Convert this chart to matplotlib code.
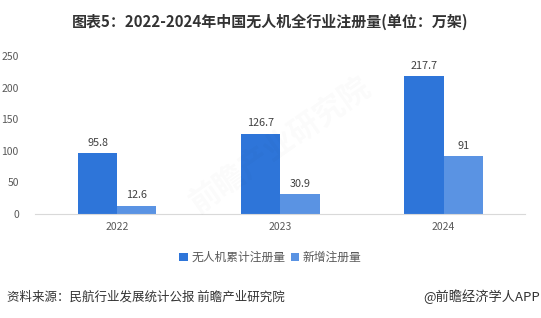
import numpy as np
import matplotlib.pyplot as plt

plt.rcParams['font.family'] = ['Noto Sans CJK SC', 'DejaVu Sans']

years = ['2022', '2023', '2024']
total = [95.8, 126.7, 217.7]
new_reg = [12.6, 30.9, 91]
total_labels = ['95.8', '126.7', '217.7']
new_labels = ['12.6', '30.9', '91']
yticks = [0, 50, 100, 150, 200, 250]

c_total = '#2E75D9'
c_new = '#5A93E3'
grey = '#595959'

fig = plt.figure(figsize=(5.41, 3.18), dpi=100)
ax = fig.add_axes([0.0656, 0.327, 0.9054, 0.497])

x = np.arange(len(years))
w = 0.24
b1 = ax.bar(x - w / 2, total, w, color=c_total, label='无人机累计注册量')
b2 = ax.bar(x + w / 2, new_reg, w, color=c_new, label='新增注册量')

for rect, lab in zip(b1, total_labels):
    ax.text(rect.get_x() + rect.get_width() / 2, rect.get_height() + 9, lab,
            ha='center', va='bottom', fontsize=7.8, color='#404040')
for rect, lab in zip(b2, new_labels):
    ax.text(rect.get_x() + rect.get_width() / 2, rect.get_height() + 9, lab,
            ha='center', va='bottom', fontsize=7.8, color='#404040')

ax.set_xlim(-0.5, 2.5)
ax.set_ylim(0, 250)
ax.set_yticks(yticks)
ax.set_xticks(x)
ax.set_xticklabels(years)
ax.tick_params(axis='both', length=0, labelsize=7.5, colors=grey)
ax.tick_params(axis='y', pad=12)
ax.tick_params(axis='x', pad=6)
for s in ['top', 'right', 'left']:
    ax.spines[s].set_visible(False)
ax.spines['bottom'].set_color('#D9D9D9')

# faint watermark
ax.text(1.0, 110, '前瞻产业研究院', fontsize=22, color='#000000', alpha=0.02,
        rotation=35, ha='center', va='center', fontweight='bold')

leg = fig.legend(loc='center', bbox_to_anchor=(0.5, 0.19), ncol=2, frameon=False,
                 fontsize=8.5, handlelength=0.7, handleheight=0.7,
                 handletextpad=0.3, columnspacing=0.5)
for t in leg.get_texts():
    t.set_color(grey)

fig.text(0.5, 0.93, '图表5：2022-2024年中国无人机全行业注册量(单位：万架)',
         ha='center', va='center', fontsize=10.8, fontweight='bold', color='#333333')
fig.text(0.013, 0.066, '资料来源：民航行业发展统计公报 前瞻产业研究院',
         ha='left', va='center', fontsize=9, color='#333333')
fig.text(0.998, 0.066, '@前瞻经济学人APP',
         ha='right', va='center', fontsize=9.5, color='#333333')

fig.savefig('out.png', dpi=100)
